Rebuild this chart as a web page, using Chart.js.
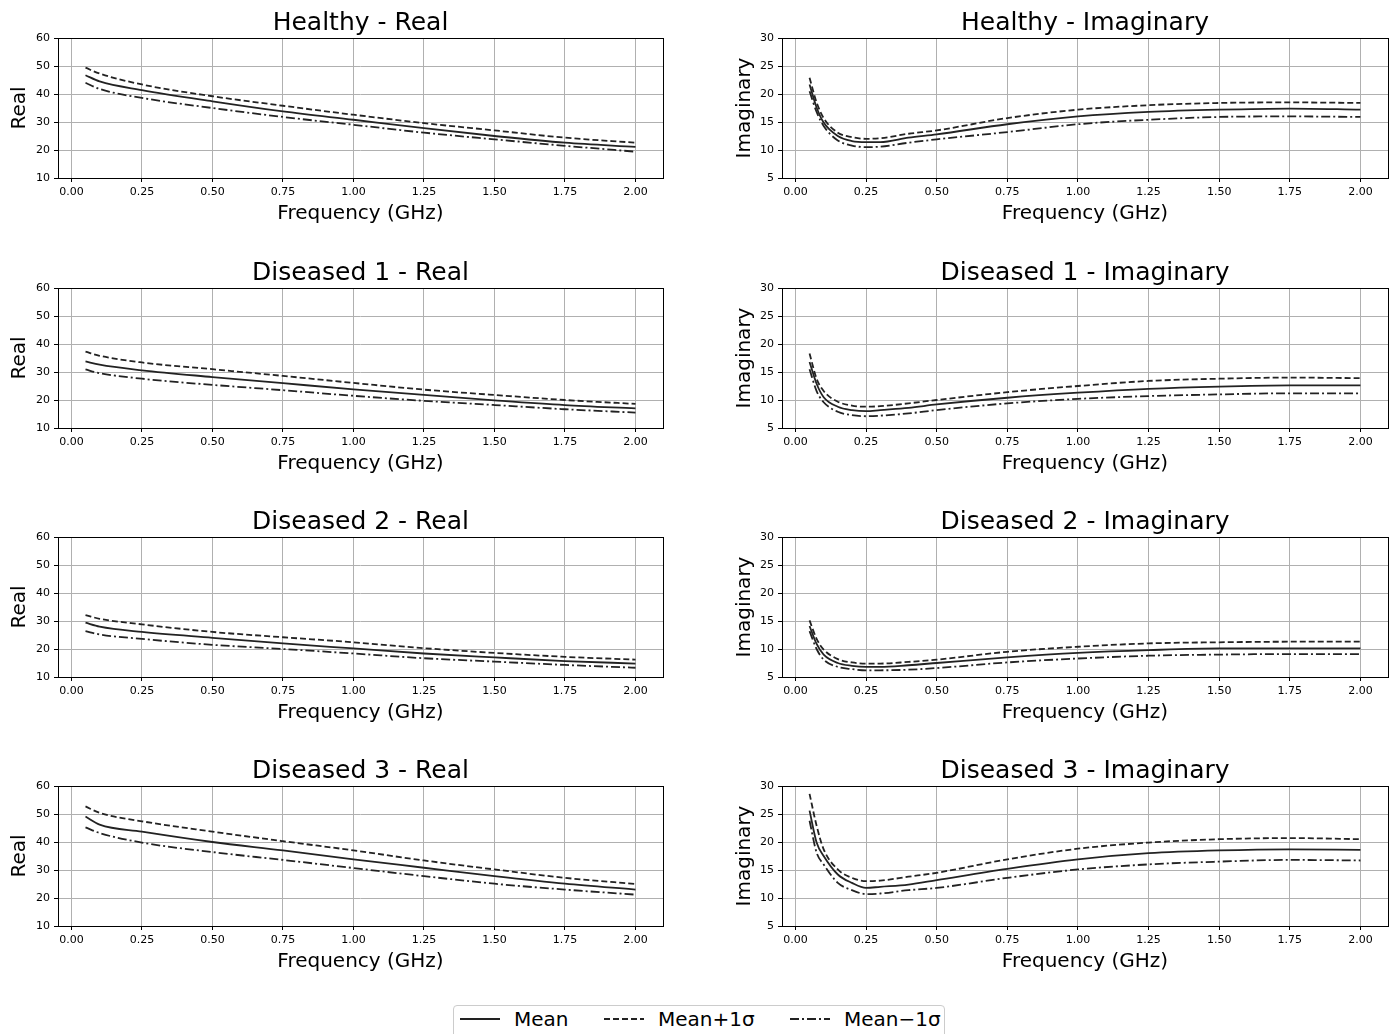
<!DOCTYPE html>
<html>
<head>
<meta charset="utf-8">
<script src="https://cdn.jsdelivr.net/npm/chart.js@4.4.0/dist/chart.umd.min.js"></script>
<style>
  body { margin: 0; background: #fff; width: 1398px; height: 1034px; overflow: hidden; position: relative; font-family: "DejaVu Sans", sans-serif; }
  canvas { position: absolute; }
  #legend { position: absolute; left: 453px; top: 1005px; width: 490px; height: 44px; border: 1px solid #cccccc; border-radius: 4px; font-size: 20px; color: #000; }
  #legend .item { position: absolute; top: 0px; height: 26px; line-height: 26px; }
  #legend svg { position: absolute; top: 0; }
  #legend span { position: absolute; top: 0; white-space: nowrap; }
</style>
</head>
<body>
<div id="legend">
  <div class="item" style="left:6px"><svg width="42" height="26"><line x1="0" y1="13" x2="40" y2="13" stroke="#222" stroke-width="2"/></svg><span style="left:54px">Mean</span></div>
  <div class="item" style="left:150px"><svg width="42" height="26"><line x1="0" y1="13" x2="40" y2="13" stroke="#222" stroke-width="2" stroke-dasharray="6,3"/></svg><span style="left:54px">Mean+1σ</span></div>
  <div class="item" style="left:336px"><svg width="42" height="26"><line x1="0" y1="13" x2="40" y2="13" stroke="#222" stroke-width="2" stroke-dasharray="9,3,2,3"/></svg><span style="left:54px">Mean−1σ</span></div>
</div>
<script>
// frequencies (GHz)
var freqReal = [0.05, 0.1, 0.25, 0.5, 0.75, 1.0, 1.25, 1.5, 1.75, 2.0];
var freqImag = [0.05, 0.075, 0.1, 0.15, 0.2, 0.25, 0.3, 0.4, 0.5, 0.75, 1.0, 1.25, 1.5, 1.75, 2.0];
var xTicks = [0, 0.25, 0.5, 0.75, 1.0, 1.25, 1.5, 1.75, 2.0];

// Healthy
var healthyRealMean  = [46.7, 44.5, 41.4, 37.4, 33.8, 30.8, 27.8, 25.0, 22.6, 21.1];
var healthyRealPlus  = [49.4, 47.3, 43.4, 39.2, 35.8, 32.6, 29.6, 27.0, 24.4, 22.6];
var healthyRealMinus = [44.0, 41.8, 38.6, 35.0, 31.8, 29.0, 26.2, 23.8, 21.5, 19.4];
var healthyImagMean  = [21.7, 17.6, 14.9, 12.5, 11.6, 11.4, 11.4, 12.2, 12.8, 14.6, 16.0, 16.8, 17.2, 17.4, 17.2];
var healthyImagPlus  = [22.9, 18.5, 15.7, 13.1, 12.3, 12.0, 12.1, 12.9, 13.5, 15.7, 17.2, 18.0, 18.4, 18.5, 18.4];
var healthyImagMinus = [20.5, 16.8, 14.3, 11.7, 10.8, 10.5, 10.6, 11.3, 11.9, 13.2, 14.6, 15.4, 15.9, 16.0, 15.9];

// Diseased 1
var d1RealMean  = [33.8, 32.6, 30.6, 28.2, 26.0, 23.8, 21.8, 19.9, 18.2, 17.0];
var d1RealPlus  = [37.3, 35.8, 33.4, 31.0, 28.6, 26.1, 23.7, 21.8, 20.0, 18.6];
var d1RealMinus = [30.9, 29.6, 27.6, 25.4, 23.5, 21.5, 19.7, 18.2, 16.7, 15.5];
var d1ImagMean  = [16.8, 12.9, 10.5, 8.8, 8.2, 8.0, 8.2, 8.6, 9.2, 10.4, 11.3, 12.0, 12.4, 12.6, 12.6];
var d1ImagPlus  = [18.3, 13.8, 11.6, 9.7, 9.0, 8.8, 8.9, 9.4, 10.0, 11.4, 12.5, 13.4, 13.8, 14.0, 13.9];
var d1ImagMinus = [15.5, 11.6, 9.6, 7.9, 7.3, 7.1, 7.2, 7.6, 8.2, 9.4, 10.2, 10.7, 11.0, 11.2, 11.2];

// Diseased 2
var d2RealMean  = [29.4, 28.0, 26.1, 24.0, 22.0, 20.2, 18.4, 17.0, 15.7, 14.8];
var d2RealPlus  = [32.1, 30.8, 28.8, 26.1, 24.2, 22.4, 20.3, 18.6, 17.2, 16.2];
var d2RealMinus = [26.4, 25.2, 23.6, 21.5, 20.0, 18.4, 16.7, 15.5, 14.3, 13.3];
var d2ImagMean  = [14.1, 10.9, 9.0, 7.5, 7.0, 6.8, 6.8, 7.1, 7.5, 8.5, 9.3, 9.8, 10.1, 10.1, 10.1];
var d2ImagPlus  = [15.1, 11.8, 9.9, 8.2, 7.6, 7.4, 7.4, 7.7, 8.1, 9.5, 10.4, 11.0, 11.2, 11.3, 11.3];
var d2ImagMinus = [13.2, 10.0, 8.1, 6.8, 6.4, 6.2, 6.2, 6.3, 6.6, 7.6, 8.3, 8.8, 9.0, 9.1, 9.1];

// Diseased 3
var d3RealMean  = [49.1, 46.2, 43.7, 40.0, 37.0, 33.8, 30.8, 27.8, 25.1, 23.0];
var d3RealPlus  = [52.7, 50.4, 47.4, 43.7, 40.3, 37.0, 33.4, 30.2, 27.2, 25.0];
var d3RealMinus = [45.2, 43.2, 39.8, 36.4, 33.6, 30.7, 27.8, 25.1, 23.0, 21.2];
var d3ImagMean  = [25.6, 19.9, 17.5, 14.2, 12.7, 11.8, 12.0, 12.4, 13.2, 15.2, 16.9, 18.0, 18.5, 18.7, 18.6];
var d3ImagPlus  = [28.6, 22.9, 18.7, 15.1, 13.6, 13.0, 13.1, 13.8, 14.5, 16.9, 18.8, 19.9, 20.5, 20.7, 20.5];
var d3ImagMinus = [23.8, 18.1, 16.0, 12.7, 11.4, 10.7, 10.8, 11.4, 11.8, 13.6, 15.1, 16.0, 16.5, 16.8, 16.7];

var panels = [
  ['Healthy - Real', 'Real', freqReal, healthyRealMean, healthyRealPlus, healthyRealMinus],
  ['Healthy - Imaginary', 'Imaginary', freqImag, healthyImagMean, healthyImagPlus, healthyImagMinus],
  ['Diseased 1 - Real', 'Real', freqReal, d1RealMean, d1RealPlus, d1RealMinus],
  ['Diseased 1 - Imaginary', 'Imaginary', freqImag, d1ImagMean, d1ImagPlus, d1ImagMinus],
  ['Diseased 2 - Real', 'Real', freqReal, d2RealMean, d2RealPlus, d2RealMinus],
  ['Diseased 2 - Imaginary', 'Imaginary', freqImag, d2ImagMean, d2ImagPlus, d2ImagMinus],
  ['Diseased 3 - Real', 'Real', freqReal, d3RealMean, d3RealPlus, d3RealMinus],
  ['Diseased 3 - Imaginary', 'Imaginary', freqImag, d3ImagMean, d3ImagPlus, d3ImagMinus]
];
var rowTops = [0, 250, 499, 748];

Chart.defaults.font.family = '"DejaVu Sans", sans-serif';
Chart.defaults.color = '#000';

// black box round the plot area (matplotlib spines) and a title centred over the axes
var frame = {
  id: 'frame',
  afterDraw: function(chart, args, opts) {
    var a = chart.chartArea, c = chart.ctx;
    c.save();
    c.strokeStyle = '#000';
    c.lineWidth = 1;
    c.strokeRect(Math.round(a.left) + 0.5, Math.round(a.top) + 0.5, Math.round(a.right - a.left), Math.round(a.bottom - a.top));
    c.fillStyle = '#000';
    c.font = '25px "DejaVu Sans", sans-serif';
    c.textAlign = 'center';
    c.textBaseline = 'alphabetic';
    c.fillText(opts.text, (a.left + a.right) / 2, a.top - 8);
    c.restore();
  }
};

function toXY(xs, ys) {
  return xs.map(function(x, i) { return {x: x, y: ys[i]}; });
}

function line(label, xs, ys, dash) {
  return {
    label: label,
    data: toXY(xs, ys),
    borderColor: '#222',
    borderWidth: 1.8,
    borderDash: dash,
    pointRadius: 0,
    fill: false,
    cubicInterpolationMode: 'monotone'
  };
}

panels.forEach(function(p, i) {
  var col = i % 2, row = Math.floor(i / 2);
  var isReal = col === 0;
  var yWidth = isReal ? 58 : 82;
  var cv = document.createElement('canvas');
  cv.width = isReal ? 690 : 698;
  cv.height = 240;
  cv.style.left = (isReal ? 0 : 700) + 'px';
  cv.style.top = rowTops[row] + 'px';
  document.body.appendChild(cv);

  new Chart(cv, {
    type: 'line',
    data: {
      datasets: [
        line('Mean', p[2], p[3], []),
        line('Mean+1σ', p[2], p[4], [6, 3]),
        line('Mean−1σ', p[2], p[5], [9, 3, 2, 3])
      ]
    },
    options: {
      responsive: false,
      animation: false,
      layout: { padding: { left: 0, right: isReal ? 27 : 10, top: 38, bottom: 0 } },
      plugins: {
        legend: { display: false },
        tooltip: { enabled: false },
        title: { display: false },
        frame: { text: p[0] }
      },
      scales: {
        x: {
          type: 'linear',
          min: -0.0475,
          max: 2.0975,
          afterBuildTicks: function(s) { s.ticks = xTicks.map(function(v) { return {value: v}; }); },
          afterFit: function(s) { s.height = 62; },
          ticks: { font: { size: 11 }, padding: 4, maxRotation: 0, autoSkip: false,
                   callback: function(v) { return v.toFixed(2); } },
          grid: { color: '#b0b0b0', lineWidth: 1, tickLength: 4, tickColor: '#000' },
          border: { display: false },
          title: { display: true, text: 'Frequency (GHz)', font: { size: 20 }, padding: { top: 4, bottom: 14 } }
        },
        y: {
          min: isReal ? 10 : 5,
          max: isReal ? 60 : 30,
          afterFit: function(s) { s.width = yWidth; },
          ticks: { stepSize: isReal ? 10 : 5, font: { size: 11 }, padding: 4 },
          grid: { color: '#b0b0b0', lineWidth: 1, tickLength: 4, tickColor: '#000' },
          border: { display: false },
          title: { display: true, text: p[1], font: { size: 20 }, padding: { top: isReal ? 8 : 33, bottom: 0 } }
        }
      }
    },
    plugins: [frame]
  });
});
</script>
</body>
</html>
